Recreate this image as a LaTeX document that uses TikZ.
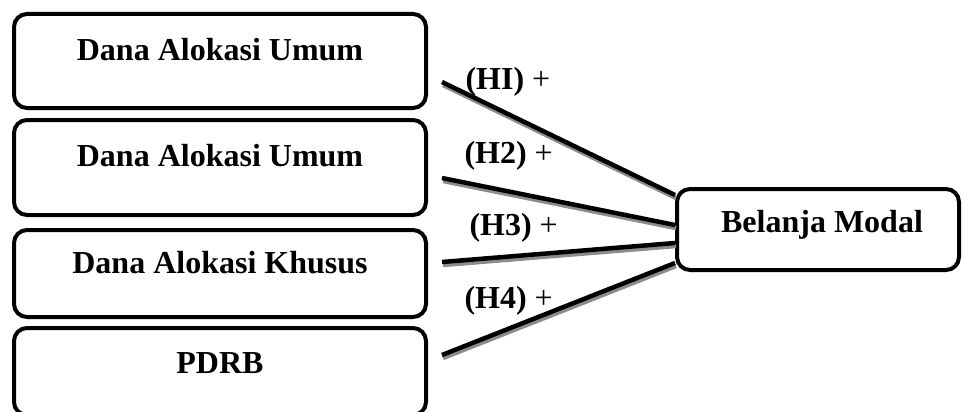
\documentclass[tikz,border=0pt]{standalone}
\usepackage{fontspec}
\setmainfont{Liberation Serif}
\begin{document}
\begin{tikzpicture}[x=1pt,y=-1pt,
  box/.style={draw=black, line width=4pt, rounded corners=13pt, fill=white,
    minimum width=412pt, inner sep=0pt},
  title/.style={anchor=base, font=\fontsize{32}{38}\selectfont\bfseries},
  hyp/.style={anchor=base west, font=\fontsize{32}{38}\selectfont},
  link/.style={line width=4.5pt, black,
    preaction={draw, black!45, line width=4.5pt,
      transform canvas={shift={(1pt,-3pt)}}}}]
  \useasboundingbox (0,0) rectangle (964,412);

  % free ends of the connectors
  \coordinate (s1) at (442,82);
  \coordinate (s2) at (442,178);
  \coordinate (s3) at (442,262);
  \coordinate (s4) at (442,355);

  % source boxes
  \node[box, minimum height=94pt] (dau1) at (220,61) {};
  \node[box, minimum height=95pt] (dau2) at (220,167.5) {};
  \node[box, minimum height=87pt] (dak) at (220,273.5) {};
  \node[box, minimum height=87pt] (pdrb) at (220,371.5) {};
  % target box
  \node[box, minimum width=282pt, minimum height=81pt] (bm) at (818,229.5) {};

  \draw[link] (s1) -- ([yshift=34.5pt]bm.west);
  \draw[link] (s2) -- ([yshift=4.5pt]bm.west);
  \draw[link] (s3) -- ([yshift=-13.5pt]bm.west);
  \draw[link] (s4) -- ([yshift=-33.5pt]bm.west);

  % box captions
  \node[title] (t1) at (220,60) {Dana Alokasi Umum};
  \node[title] (t2) at (220,166) {Dana Alokasi Umum};
  \node[title] (t3) at (220,273) {Dana Alokasi Khusus};
  \node[title] (t4) at (220,373) {PDRB};
  \node[title] (t5) at (822,232) {Belanja Modal};

  % hypothesis labels
  \node[hyp] (h1) at (462,89) {\textbf{(HI)} +};
  \node[hyp] (h2) at (461,163) {\textbf{(H2)} +};
  \node[hyp] (h3) at (466,235) {\textbf{(H3)} +};
  \node[hyp] (h4) at (461,308) {\textbf{(H4)} +};
\end{tikzpicture}
\end{document}
